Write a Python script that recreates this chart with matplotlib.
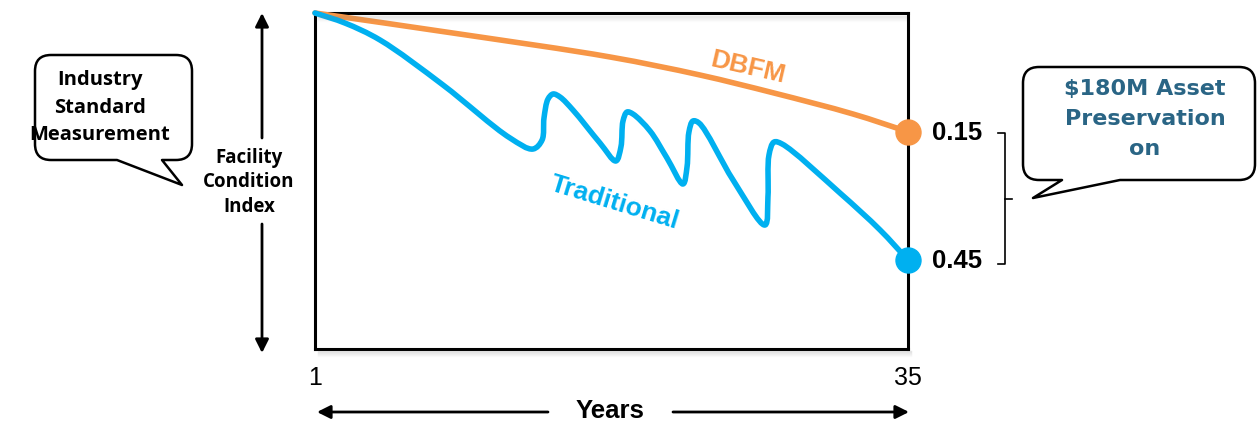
import numpy as np
import matplotlib
matplotlib.use("Agg")
import matplotlib.pyplot as plt
from matplotlib.path import Path
from matplotlib.patches import PathPatch

# Facility Condition Index over the life of the asset (0 = new condition)
dbfm_years = [1.0, 9.31, 17.91, 23.07, 27.32, 31.85, 35.0]
dbfm_fci = [0.0, 0.0112, 0.0338, 0.0566, 0.0830, 0.1177, 0.15]

trad_years = [1.00, 2.72, 4.73, 8.34, 12.18, 13.50, 14.02, 14.13, 14.36,
              14.65, 15.05, 15.79, 17.34, 18.25, 18.54, 18.66, 18.89, 19.23, 20.21,
              21.18, 22.10, 22.33, 22.44, 22.67, 23.02, 24.97, 26.80, 26.97, 27.03,
              27.32, 27.78, 31.10, 33.40, 35.00]
trad_fci = [0.0, 0.0037, 0.0163, 0.0708, 0.1620, 0.1839, 0.1659, 0.1247, 0.0925,
            0.0845, 0.0893, 0.1108, 0.1719, 0.2087, 0.1798, 0.1301, 0.1142, 0.1177, 0.1486,
            0.2024, 0.2592, 0.2216, 0.1505, 0.1301, 0.1338, 0.2502, 0.3579, 0.2894, 0.1962,
            0.1699, 0.1738, 0.2800, 0.3706, 0.45]

end_labels = ["0.15", "0.45"]
year_ticks = [1, 35]

ORANGE = "#f79646"
BLUE = "#00b0f0"
TEAL = "#2a6585"
W, H = 1257, 424


def fwd(v):
    v = np.asarray(v, dtype=float)
    return np.sign(v) * np.abs(v) ** (2 / 3)


def inv(u):
    u = np.asarray(u, dtype=float)
    return np.sign(u) * np.abs(u) ** 1.5


def smooth_path(ax, xs, vs):
    # centripetal Catmull-Rom through the points, as cubic Beziers in data coords
    pts = ax.transData.transform(np.column_stack([xs, vs]))
    pts = np.vstack([2 * pts[0] - pts[1], pts, 2 * pts[-1] - pts[-2]])
    verts = [pts[1]]
    codes = [Path.MOVETO]
    for i in range(1, len(pts) - 2):
        p0, p1, p2, p3 = pts[i - 1:i + 3]
        d1 = np.hypot(*(p1 - p0))
        d2 = np.hypot(*(p2 - p1))
        d3 = np.hypot(*(p3 - p2))
        a1, a2, a3 = np.sqrt(d1), np.sqrt(d2), np.sqrt(d3)
        c1 = (d1 * p2 - d2 * p0 + (2 * d1 + 3 * a1 * a2 + d2) * p1) / (3 * a1 * (a1 + a2))
        c2 = (d3 * p1 - d2 * p3 + (2 * d3 + 3 * a3 * a2 + d2) * p2) / (3 * a3 * (a3 + a2))
        verts += [c1, c2, p2]
        codes += [Path.CURVE4] * 3
    verts = ax.transData.inverted().transform(np.array(verts))
    return Path(verts, codes)


def bubble(ax, x0, y0, x1, y1, r, base_a, base_b, tip):
    verts = [(x0 + r, y0), (x1 - r, y0), (x1, y0), (x1, y0 + r),
             (x1, y1 - r), (x1, y1), (x1 - r, y1),
             (base_b, y1), tip, (base_a, y1),
             (x0 + r, y1), (x0, y1), (x0, y1 - r),
             (x0, y0 + r), (x0, y0), (x0 + r, y0), (x0 + r, y0)]
    codes = [Path.MOVETO, Path.LINETO, Path.CURVE3, Path.CURVE3,
             Path.LINETO, Path.CURVE3, Path.CURVE3,
             Path.LINETO, Path.LINETO, Path.LINETO,
             Path.LINETO, Path.CURVE3, Path.CURVE3,
             Path.LINETO, Path.CURVE3, Path.CURVE3, Path.CLOSEPOLY]
    ax.add_patch(PathPatch(Path(verts, codes), facecolor="white",
                           edgecolor="black", lw=1.8, joinstyle="round"))


fig = plt.figure(figsize=(W / 100, H / 100), dpi=100)
fig.patch.set_facecolor("white")

# Main chart box
ax = fig.add_axes([315 / W, 1 - 349 / H, 593 / W, 336 / H])
ax.set_yscale("function", functions=(fwd, inv))
ax.set_xlim(1, 35)
ax.set_ylim(0.714, 0)
for s in ax.spines.values():
    s.set_linewidth(2.2)
    s.set_color("black")
ax.set_yticks([])
ax.set_yticks([], minor=True)
ax.set_xticks(year_ticks)
ax.set_xticklabels([str(t) for t in year_ticks], family="Liberation Sans")
ax.tick_params(axis="x", length=0, pad=12, labelsize=18)

for xs, vs, c in [(dbfm_years, dbfm_fci, ORANGE), (trad_years, trad_fci, BLUE)]:
    ax.add_patch(PathPatch(smooth_path(ax, xs, vs), fill=False, edgecolor=c,
                           lw=4.0, capstyle="round", joinstyle="round",
                           transform=ax.transData, zorder=3, clip_on=False))

ends = [(dbfm_years[-1], dbfm_fci[-1], ORANGE), (trad_years[-1], trad_fci[-1], BLUE)]
for (x, v, c), lab in zip(ends, end_labels):
    ax.plot(x, v, "o", ms=18, color=c, clip_on=False, zorder=6)
    ax.annotate(lab, xy=(x, v), xytext=(17, -1), textcoords="offset points",
                va="center", ha="left", fontsize=18.5, fontweight="bold",
                family="Liberation Sans", annotation_clip=False)

ax.text(25.8, 0.047, "DBFM", color=ORANGE, fontsize=19, fontweight="bold",
        family="Liberation Sans", rotation=-13, ha="center", va="center")
ax.text(18.2, 0.303, "Traditional", color=BLUE, fontsize=19, fontweight="bold",
        family="Liberation Sans", rotation=-17, ha="center", va="center")

# Overlay in pixel units for the annotations round the chart
ov = fig.add_axes([0, 0, 1, 1])
ov.set_xlim(0, W)
ov.set_ylim(H, 0)
ov.axis("off")
ov.patch.set_visible(False)

# soft shadow under the box
for k in range(6):
    a = 0.18 * (1 - k / 6)
    ov.plot([318, 911], [351 + k, 351 + k], color="gray", alpha=a, lw=1)
    ov.plot([318, 906], [16 + k, 16 + k], color="gray", alpha=a * 0.8, lw=1)

arrow = dict(arrowstyle="-|>", lw=2, color="black", mutation_scale=20,
             shrinkA=0, shrinkB=0)
ov.annotate("", xy=(262, 13), xytext=(262, 138), arrowprops=arrow)
ov.annotate("", xy=(262, 353), xytext=(262, 224), arrowprops=arrow)
ov.annotate("", xy=(317, 412), xytext=(548, 412), arrowprops=arrow)
ov.annotate("", xy=(909, 412), xytext=(673, 412), arrowprops=arrow)

ov.text(249, 182, "Facility\nCondition\nIndex", ha="center", va="center",
        fontsize=13.5, fontweight="bold", family="Open Sans", linespacing=1.3)
ov.text(610, 411, "Years", ha="center", va="center", fontsize=18.5,
        fontweight="bold", family="Liberation Sans")

bubble(ov, 35, 55, 192, 160, 16, 117, 162, (182, 185))
ov.text(100, 108, "Industry\nStandard\nMeasurement", ha="center", va="center",
        fontsize=14.5, fontweight="bold", family="Open Sans", linespacing=1.5)

bubble(ov, 1023, 67, 1255, 180, 16, 1062, 1120, (1033, 198))
ov.text(1145, 119, "\\$180M Asset\nPreservation\non", ha="center", va="center",
        fontsize=16, fontweight="bold", family="DejaVu Sans", color=TEAL,
        linespacing=1.65)

# bracket spanning the two end values
ov.plot([998, 1005, 1005, 998], [133, 133, 264, 264], color="black", lw=1.2)
ov.plot([1005, 1012], [199, 199], color="black", lw=1.2)

fig.savefig("out.png", dpi=100, facecolor="white")
